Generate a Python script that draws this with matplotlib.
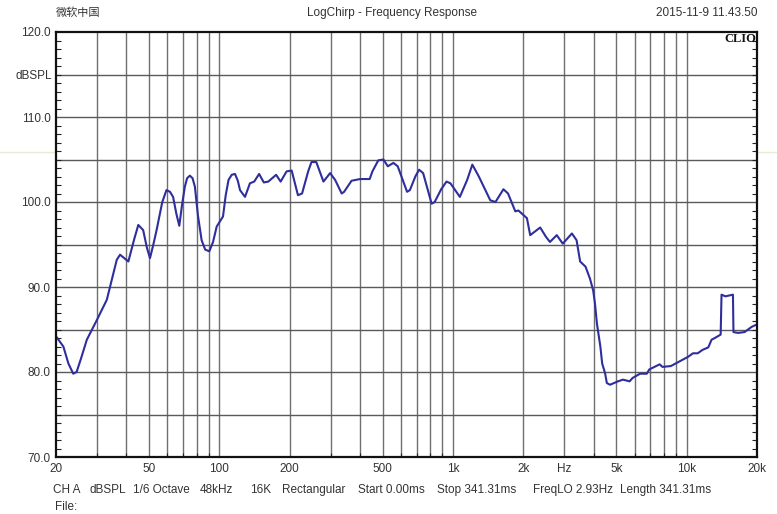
import matplotlib
matplotlib.use("Agg")
import matplotlib.pyplot as plt
from matplotlib.ticker import FixedLocator, NullFormatter, MultipleLocator
from matplotlib.lines import Line2D

plt.rcParams['font.family'] = ['Liberation Sans', 'Noto Sans CJK SC', 'DejaVu Sans']

freq_hz = [20, 21.5, 22.6, 23.7, 24.5, 25.6, 27.1, 29.9, 33.0, 36.4, 37.6, 40.8, 43.2, 45.0,
           47.2, 49.0, 50.5, 52.0, 53.9, 57.0, 59.4, 61.5, 63.4, 65.5, 67.4, 69.2, 71.2, 72.8,
           74.8, 76.8, 78.6, 81.0, 84.0, 87.0, 90.6, 94.0, 97.4, 103.7, 106.5, 109.5, 113.0,
           116.7, 120.0, 122.6, 128.8, 135.2, 141.0, 148, 155, 162, 175, 183, 194, 204, 217,
           226, 240, 248, 260, 279, 298, 313, 334, 342, 368, 400, 440, 452, 479, 504, 526,
           556, 580, 636, 654, 690, 716, 745, 810, 835, 890, 938, 975, 1070, 1150, 1210, 1290,
           1444, 1520, 1644, 1720, 1848, 1905, 2072, 2140, 2361, 2500, 2600, 2780, 2950, 3228,
           3380, 3500, 3690, 3855, 3980, 4050, 4130, 4272, 4350, 4480, 4554, 4700, 5080, 5340,
           5700, 5870, 6320, 6750, 6920, 7660, 7880, 8560, 9260, 10160, 10640, 11150, 11690,
           12380, 12780, 13200, 13980, 14100, 14650, 15780, 15860, 16600, 17700, 18950, 20000]
spl_db = [84.2, 83.0, 81.0, 79.8, 80.0, 81.6, 83.8, 86.1, 88.5, 93.2, 93.8, 93.0, 95.6, 97.3,
          96.7, 94.6, 93.4, 94.8, 96.7, 100.0, 101.4, 101.2, 100.6, 98.6, 97.2, 99.6, 101.8,
          102.8, 103.1, 102.8, 101.8, 98.4, 95.5, 94.4, 94.2, 95.3, 97.1, 98.3, 100.8, 102.6,
          103.2, 103.3, 102.5, 101.4, 100.6, 102.2, 102.4, 103.3, 102.3, 102.4, 103.2, 102.4,
          103.6, 103.7, 100.8, 101.0, 103.6, 104.7, 104.7, 102.4, 103.4, 102.6, 101.0, 101.2,
          102.5, 102.7, 102.7, 103.6, 104.9, 105.0, 104.2, 104.6, 104.2, 101.2, 101.4, 103.0,
          103.8, 103.4, 99.8, 100.0, 101.5, 102.4, 102.2, 100.6, 102.6, 104.4, 103.0, 100.2,
          100.0, 101.5, 101.0, 98.9, 99.0, 98.1, 96.1, 97.0, 95.9, 95.3, 96.1, 95.1, 96.3,
          95.5, 93.0, 92.4, 91.0, 89.6, 88.1, 85.7, 83.0, 81.0, 79.8, 78.7, 78.5, 78.9, 79.1,
          78.9, 79.3, 79.8, 79.8, 80.3, 80.9, 80.6, 80.7, 81.2, 81.8, 82.2, 82.2, 82.6, 82.9,
          83.8, 84.0, 84.4, 89.1, 88.9, 89.1, 84.7, 84.6, 84.7, 85.3, 85.6]

xtick_vals = [20, 50, 100, 200, 500, 1000, 2000, 3000, 5000, 10000, 20000]
xtick_labels = ['20', '50', '100', '200', '500', '1k', '2k', 'Hz', '5k', '10k', '20k']
ytick_vals = [70, 80, 90, 100, 110, 120]

W, H = 777, 514
fig = plt.figure(figsize=(W / 100, H / 100), dpi=100)
fig.patch.set_facecolor('white')

L, R, T, B = 56, 757, 32, 457
ax = fig.add_axes([L / W, 1 - B / H, (R - L) / W, (B - T) / H])

# faint scan artifact line across the page
fig.add_artist(Line2D([0, 1], [1 - 152 / H, 1 - 152 / H], transform=fig.transFigure,
                      color='#e4ecd6', lw=1.0, zorder=0))

ax.set_xscale('log')
ax.set_xlim(20, 20000)
ax.set_ylim(70, 120)

grid_f = [20 + 10 * i for i in range(9)] + [100 * i for i in range(2, 11)] + \
         [1000 * i for i in range(2, 11)] + [20000]
for f in grid_f[1:-1]:
    ax.axvline(f, color='#707070', lw=1.0, zorder=1)
for yv in range(75, 120, 5):
    ax.axhline(yv, color='#5a5a5a', lw=1.0, zorder=1)

ax.plot(freq_hz, spl_db, color='#2e2e9c', lw=1.5, zorder=3,
        solid_joinstyle='round')

ax.xaxis.set_major_locator(FixedLocator(xtick_vals))
ax.set_xticklabels(xtick_labels)
ax.xaxis.set_minor_locator(FixedLocator(grid_f))
ax.xaxis.set_minor_formatter(NullFormatter())
ax.set_yticks(ytick_vals)
ax.set_yticklabels(['%.1f' % v for v in ytick_vals])
ax.yaxis.set_minor_locator(MultipleLocator(1))

ax.tick_params(axis='both', which='both', direction='in', colors='#222222',
               labelcolor='#333333', labelsize=8.5)
ax.tick_params(axis='y', which='major', length=0, pad=4, right=True)
ax.tick_params(axis='y', which='minor', length=3.5, width=0.8, right=True)
ax.tick_params(axis='x', which='major', length=0, pad=4)
ax.tick_params(axis='x', which='minor', length=3, width=0.8)

for s in ax.spines.values():
    s.set_color('#111111')
    s.set_linewidth(1.6)
    s.set_zorder(4)

def px(x, y):
    return x / W, 1 - y / H

tc = '#333333'
fig.text(*px(56, 13), '微软中国', fontsize=8, color=tc, va='center', ha='left',
         family=['Noto Sans CJK SC', 'DejaVu Sans'])
fig.text(*px(392, 13), 'LogChirp - Frequency Response', fontsize=8.5, color=tc,
         va='center', ha='center')
fig.text(*px(757, 13), '2015-11-9 11.43.50', fontsize=8.5, color=tc, va='center', ha='right')
fig.text(*px(756, 39), 'CLIO', fontsize=9, color='#111111', va='center', ha='right',
         family=['Liberation Serif'], weight='bold')
fig.text(*px(52, 76), 'dBSPL', fontsize=8.5, color=tc, va='center', ha='right')

items = [(53, 'CH A'), (90, 'dBSPL'), (133, '1/6 Octave'), (200, '48kHz'), (250, '16K'),
         (282, 'Rectangular'), (358, 'Start 0.00ms'), (437, 'Stop 341.31ms'),
         (533, 'FreqLO 2.93Hz'), (620, 'Length 341.31ms')]
for x, s in items:
    fig.text(*px(x, 490), s, fontsize=8.5, color=tc, va='center', ha='left')
fig.text(*px(55, 507), 'File:', fontsize=8.5, color=tc, va='center', ha='left')

fig.savefig('out.png', dpi=100, facecolor='white')
